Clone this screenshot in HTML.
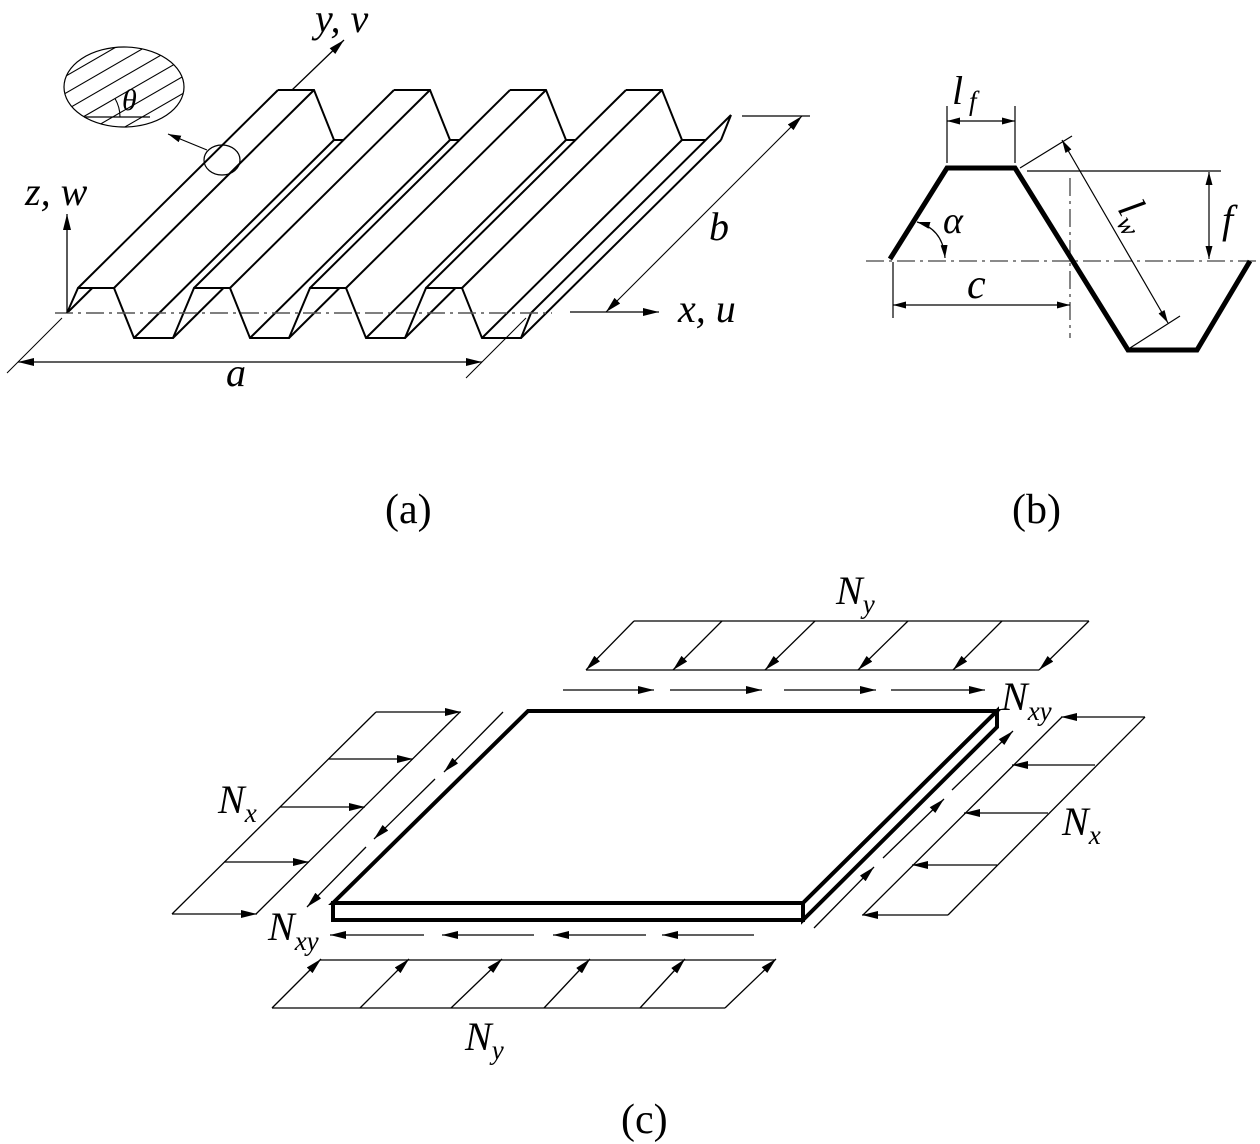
<!DOCTYPE html>
<html>
<head>
<meta charset="utf-8">
<style>
html,body{margin:0;padding:0;background:#fff;}
svg{display:block;}
svg text{font-family:"Liberation Serif","Times New Roman",Times,serif;fill:#000;}
.it{font-style:italic;}
</style>
</head>
<body>
<svg width="1260" height="1144" viewBox="0 0 1260 1144" xmlns="http://www.w3.org/2000/svg" font-family="'Liberation Serif', 'Times New Roman', Times, serif">
<defs>
  <marker id="ah" viewBox="0 0 16 8" refX="16" refY="4" markerWidth="16" markerHeight="8" markerUnits="userSpaceOnUse" orient="auto-start-reverse">
    <path d="M0,0L16,4L0,8z" fill="#000"/>
  </marker>
  <marker id="as" viewBox="0 0 13 7" refX="13" refY="3.5" markerWidth="13" markerHeight="7" markerUnits="userSpaceOnUse" orient="auto-start-reverse">
    <path d="M0,0L13,3.5L0,7z" fill="#000"/>
  </marker>
  <clipPath id="cp">
    <ellipse cx="124" cy="87" rx="60" ry="40"/>
  </clipPath>
</defs>
<rect width="1260" height="1144" fill="#fff"/>

<!-- ================= (a) ================= -->
<g fill="none" stroke="#000" stroke-width="2" stroke-linejoin="miter" stroke-linecap="butt">
  <polyline points="67,313 78,288 114,288 134,338 173,338 194,288 230,288 250,338 289,338 310,288 346,288 366,338 405,338 426,288 462,288 482,338 521,338 531,313"/>
  <line x1="78" y1="288" x2="278" y2="90"/>
  <line x1="194" y1="288" x2="394" y2="90"/>
  <line x1="310" y1="288" x2="510" y2="90"/>
  <line x1="426" y1="288" x2="626" y2="90"/>
  <line x1="114" y1="288" x2="314" y2="90"/>
  <line x1="230" y1="288" x2="430" y2="90"/>
  <line x1="346" y1="288" x2="546" y2="90"/>
  <line x1="462" y1="288" x2="662" y2="90"/>
  <line x1="134" y1="338" x2="334" y2="140"/>
  <line x1="250" y1="338" x2="450" y2="140"/>
  <line x1="366" y1="338" x2="566" y2="140"/>
  <line x1="482" y1="338" x2="682" y2="140"/>
  <polyline points="278,90 314,90 334,140 343.5,140"/>
  <polyline points="394,90 430,90 450,140 459.5,140"/>
  <polyline points="510,90 546,90 566,140 575.5,140"/>
  <polyline points="626,90 662,90 682,140 705.7,140"/>
  <line x1="173" y1="338" x2="223.5" y2="288"/>
  <line x1="289" y1="338" x2="339.5" y2="288"/>
  <line x1="405" y1="338" x2="455.5" y2="288"/>
  <line x1="67" y1="313" x2="92.3" y2="288"/>
  <line x1="521" y1="338" x2="721" y2="140"/>
  <line x1="531" y1="313" x2="731" y2="115"/>
  <line x1="721" y1="140" x2="731" y2="115"/>
</g>

<line x1="55" y1="313" x2="552" y2="313" stroke="#555" stroke-width="1.6" stroke-dasharray="18 5 3 5"/>

<g fill="none" stroke="#000" stroke-width="1.3">
  <line x1="67" y1="313" x2="67" y2="214" marker-end="url(#ah)"/>
  <line x1="292" y1="90" x2="344" y2="40" marker-end="url(#ah)"/>
  <line x1="570" y1="312" x2="659" y2="312" marker-end="url(#ah)"/>
  <line x1="7" y1="373" x2="62" y2="318" stroke-width="1"/>
  <line x1="466" y1="378" x2="526" y2="318" stroke-width="1"/>
  <line x1="18" y1="362" x2="482" y2="362" marker-start="url(#ah)" marker-end="url(#ah)"/>
  <line x1="742" y1="116" x2="810" y2="116" stroke-width="1.2"/>
  <line x1="606" y1="312" x2="802" y2="116" stroke-width="1.1" marker-start="url(#ah)" marker-end="url(#ah)"/>
  <ellipse cx="222" cy="160" rx="18" ry="15" stroke-width="1.2"/>
  <line x1="207" y1="150" x2="168" y2="134" stroke-width="1.2" marker-end="url(#as)"/>
  <ellipse cx="124" cy="87" rx="60" ry="40" stroke-width="1.2"/>
  <g clip-path="url(#cp)" stroke-width="1.1">
    <line x1="55" y1="82.3" x2="195" y2="1.5"/>
    <line x1="55" y1="99.3" x2="195" y2="18.5"/>
    <line x1="55" y1="116.3" x2="195" y2="35.5"/>
    <line x1="83" y1="117" x2="195" y2="52.4"/>
    <line x1="55" y1="150.3" x2="195" y2="69.5"/>
    <line x1="55" y1="167.3" x2="195" y2="86.5"/>
    <line x1="55" y1="184.3" x2="195" y2="103.5"/>
    <line x1="55" y1="201.3" x2="195" y2="120.5"/>
  </g>
  <line x1="84" y1="117" x2="150" y2="117" stroke-width="1.2"/>
  <path d="M120,117 A37,37 0 0 0 115,98.5" stroke-width="1.1"/>
</g>
<g font-family="'Liberation Serif', 'Times New Roman', Times, serif" font-style="italic">
<text x="122" y="110" font-size="30">θ</text>
<text x="315" y="32" font-size="40">y, v</text>
<text x="25" y="205" font-size="40">z, w</text>
<text x="678" y="322" font-size="40">x, u</text>
<text x="226" y="386" font-size="40">a</text>
<text x="709" y="240" font-size="40">b</text>
</g>

<!-- ================= (b) ================= -->
<line x1="866" y1="261" x2="1256" y2="261" stroke="#444" stroke-width="1.3" stroke-dasharray="18 5 3 5"/>
<line x1="1070" y1="178" x2="1070" y2="338" stroke="#444" stroke-width="1.3" stroke-dasharray="18 5 3 5"/>
<polyline points="890,259 947,168 1015,168 1128,350 1197,350 1250,261" fill="none" stroke="#000" stroke-width="5" stroke-linejoin="miter"/>
<g fill="none" stroke="#000" stroke-width="1.2">
  <line x1="947" y1="106" x2="947" y2="163"/>
  <line x1="1015" y1="106" x2="1015" y2="163"/>
  <line x1="947" y1="121" x2="1015" y2="121" marker-start="url(#as)" marker-end="url(#as)"/>
  <line x1="1027" y1="171" x2="1221" y2="171"/>
  <line x1="1209" y1="172" x2="1209" y2="259" marker-start="url(#as)" marker-end="url(#as)"/>
  <line x1="1020" y1="168" x2="1072" y2="136"/>
  <line x1="1130" y1="348" x2="1180" y2="316"/>
  <line x1="1062" y1="140" x2="1168" y2="323" marker-start="url(#as)" marker-end="url(#as)"/>
  <line x1="893" y1="262" x2="893" y2="318"/>
  <line x1="893" y1="305" x2="1070" y2="305" marker-start="url(#as)" marker-end="url(#as)"/>
  <path d="M917,222 Q943,229 945,258" marker-start="url(#as)" marker-end="url(#as)"/>
</g>
<g font-family="'Liberation Serif', 'Times New Roman', Times, serif" font-style="italic">
<text x="952" y="104" font-size="40">l</text>
<text x="969" y="110" font-size="27">f</text>
<text x="1222" y="233" font-size="40">f</text>
<text x="943" y="233" font-size="38">α</text>
<text x="967" y="298" font-size="42">c</text>
<text font-size="40" transform="translate(1117,209) rotate(60)">l<tspan font-size="27" dy="8">w</tspan></text>
</g>

<!-- panel labels -->
<g font-family="'Liberation Serif', 'Times New Roman', Times, serif">
<text x="385" y="523" font-size="42">(a)</text>
<text x="1012" y="523" font-size="42">(b)</text>
<text x="621" y="1133" font-size="42">(c)</text>
</g>

<!-- ================= (c) ================= -->
<g fill="#fff" stroke="#000" stroke-width="4" stroke-linejoin="miter">
  <polygon points="333,903 528,711 997,711 803,903"/>
  <polygon points="333,903 803,903 803,920 333,920"/>
  <polygon points="803,903 997,711 997,727 803,920"/>
</g>

<g fill="none" stroke="#000" stroke-width="1.3">
  <line x1="634" y1="621" x2="1089" y2="621"/>
  <line x1="586" y1="670" x2="1039" y2="670"/>
  <line x1="634" y1="621" x2="586" y2="670" marker-end="url(#ah)"/>
  <line x1="722" y1="621" x2="673" y2="670" marker-end="url(#ah)"/>
  <line x1="815" y1="621" x2="765" y2="670" marker-end="url(#ah)"/>
  <line x1="908" y1="621" x2="858" y2="670" marker-end="url(#ah)"/>
  <line x1="1002" y1="621" x2="953" y2="670" marker-end="url(#ah)"/>
  <line x1="1089" y1="621" x2="1039" y2="670" marker-end="url(#ah)"/>
  <line x1="563" y1="690" x2="654" y2="690" marker-end="url(#ah)"/>
  <line x1="670" y1="690" x2="762" y2="690" marker-end="url(#ah)"/>
  <line x1="784" y1="690" x2="876" y2="690" marker-end="url(#ah)"/>
  <line x1="891" y1="690" x2="985" y2="690" marker-end="url(#ah)"/>
  <line x1="376" y1="712" x2="172" y2="914"/>
  <line x1="460" y1="712" x2="256" y2="914"/>
  <line x1="376" y1="712" x2="461" y2="712" marker-end="url(#ah)"/>
  <line x1="329" y1="759" x2="413" y2="759" marker-end="url(#ah)"/>
  <line x1="280" y1="807" x2="365" y2="807" marker-end="url(#ah)"/>
  <line x1="224" y1="862" x2="309" y2="862" marker-end="url(#ah)"/>
  <line x1="172" y1="914" x2="257" y2="914" marker-end="url(#ah)"/>
  <line x1="503" y1="712" x2="444" y2="772" marker-end="url(#ah)"/>
  <line x1="435" y1="779" x2="374" y2="839" marker-end="url(#ah)"/>
  <line x1="366" y1="847" x2="307" y2="907" marker-end="url(#ah)"/>
  <line x1="1062" y1="717" x2="863" y2="915"/>
  <line x1="1145" y1="717" x2="948" y2="915"/>
  <line x1="1145" y1="717" x2="1061" y2="717" marker-end="url(#ah)"/>
  <line x1="1095" y1="765" x2="1012" y2="765" marker-end="url(#ah)"/>
  <line x1="1048" y1="813" x2="964" y2="813" marker-end="url(#ah)"/>
  <line x1="997" y1="865" x2="912" y2="865" marker-end="url(#ah)"/>
  <line x1="948" y1="915" x2="862" y2="915" marker-end="url(#ah)"/>
  <line x1="814" y1="928" x2="874" y2="867" marker-end="url(#ah)"/>
  <line x1="883" y1="858" x2="944" y2="799" marker-end="url(#ah)"/>
  <line x1="952" y1="790" x2="1013" y2="731" marker-end="url(#ah)"/>
  <line x1="424" y1="935" x2="330" y2="935" marker-end="url(#ah)"/>
  <line x1="534" y1="935" x2="442" y2="935" marker-end="url(#ah)"/>
  <line x1="646" y1="935" x2="553" y2="935" marker-end="url(#ah)"/>
  <line x1="754" y1="935" x2="662" y2="935" marker-end="url(#ah)"/>
  <line x1="320" y1="960" x2="775" y2="960"/>
  <line x1="272" y1="1008" x2="725" y2="1008"/>
  <line x1="272" y1="1008" x2="321" y2="959" marker-end="url(#ah)"/>
  <line x1="360" y1="1008" x2="409" y2="959" marker-end="url(#ah)"/>
  <line x1="451" y1="1008" x2="502" y2="959" marker-end="url(#ah)"/>
  <line x1="544" y1="1008" x2="590" y2="959" marker-end="url(#ah)"/>
  <line x1="640" y1="1008" x2="685" y2="959" marker-end="url(#ah)"/>
  <line x1="725" y1="1008" x2="776" y2="959" marker-end="url(#ah)"/>
</g>

<g font-family="'Liberation Serif', 'Times New Roman', Times, serif" font-style="italic">
<text x="836" y="604" font-size="40">N<tspan font-size="27" dy="9">y</tspan></text>
<text x="1001" y="710" font-size="40">N<tspan font-size="27" dy="10">xy</tspan></text>
<text x="1062" y="835" font-size="40">N<tspan font-size="27" dy="9">x</tspan></text>
<text x="218" y="813" font-size="40">N<tspan font-size="27" dy="9">x</tspan></text>
<text x="268" y="940" font-size="40">N<tspan font-size="27" dy="10">xy</tspan></text>
<text x="465" y="1050" font-size="40">N<tspan font-size="27" dy="9">y</tspan></text>
</g>
</svg>
</body>
</html>
